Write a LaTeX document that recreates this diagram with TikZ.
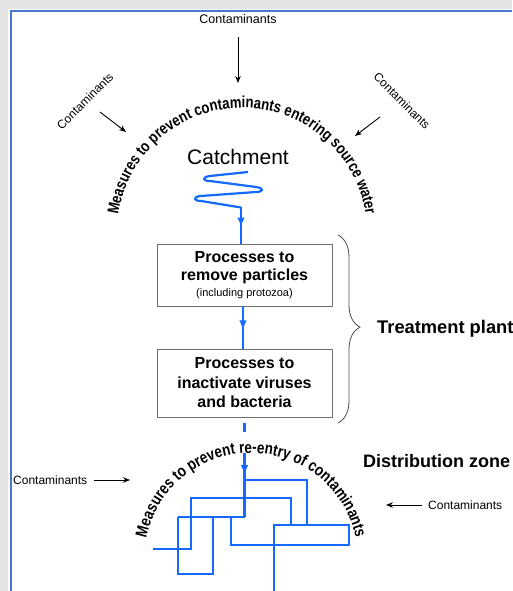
\documentclass[tikz,border=0pt]{standalone}
\usepackage{fontspec}
\setmainfont{Liberation Sans}
\newfontfamily\arcfont[FakeStretch=0.82]{Liberation Sans}
\usetikzlibrary{arrows.meta,decorations.text,decorations.markings,decorations.pathreplacing}
\definecolor{pipe}{RGB}{20,105,255}
\definecolor{frameblue}{RGB}{70,120,210}
\definecolor{band}{RGB}{228,228,228}
\definecolor{boxline}{RGB}{110,110,110}
\begin{document}
\begin{tikzpicture}[x=1pt,y=1pt,
  flow/.style={draw=pipe, line width=2.3pt},
  midarrow/.style={postaction={decorate}, decoration={markings, mark=at position #1 with {\arrow{Triangle[length=8pt,width=6.5pt]}}}},
  cont/.style={font=\fontsize{12}{14}\selectfont, inner sep=0pt},
  carrow/.style={draw=black, line width=0.9pt, -{Stealth[length=7pt,width=5.5pt]}},
  procbox/.style={draw=boxline, line width=0.8pt, minimum width=175pt, align=center, inner sep=0pt, font=\bfseries\fontsize{16}{18.5}\selectfont},
  zone/.style={font=\bfseries\fontsize{18.3}{19}\selectfont, inner sep=0pt, anchor=base west},
  bracestyle/.style={draw=black!70, line width=0.8pt, decorate, decoration={brace, amplitude=22pt, aspect=0.49}}
]
\useasboundingbox (0,0) rectangle (512,591);
% page frame
\fill[band] (0,0) rectangle (8,591);
\fill[band] (0,582) rectangle (512,591);
\draw[frameblue, line width=1.5pt] (11,0) -- (11,580) -- (512,580);

% catchment contaminants
\node[cont, font=\fontsize{12.5}{14}\selectfont] (ctop) at (238,572) {Contaminants};
\node[cont, rotate=45] (cleft) at (85,490) {Contaminants};
\node[cont, rotate=-45] (cright) at (402,490) {Contaminants};
\coordinate (ta1) at (238,554); \coordinate (ta2) at (238,508);
\coordinate (la1) at (100,479); \coordinate (la2) at (126,459);
\coordinate (ra1) at (380,474); \coordinate (ra2) at (355,455);
\draw[carrow] (ta1) -- (ta2);
\draw[carrow] (la1) -- (la2);
\draw[carrow] (ra1) -- (ra2);

% arc text 1
\path[decorate, decoration={text along path, text align=center,
  text={|\arcfont\bfseries\fontsize{16}{16}\selectfont|Measures to prevent contaminants entering source water}}]
  (117,358) arc[start angle=180, end angle=0, radius=125];

\node[font=\fontsize{21}{21}\selectfont, inner sep=0pt] (catch) at (238,434) {Catchment};

% zigzag
\coordinate (z0) at (248,419);
\coordinate (zz) at (241,383.5);
\draw[flow, line width=2.2pt, line join=round]
  (z0) -- (210,415) .. controls (202,414) and (202,410) .. (210,410)
  -- (256,404) .. controls (264,403) and (264,399) .. (256,399)
  -- (201,395) .. controls (193,394.5) and (193,390) .. (201,390)
  -- (zz);

% boxes
\node[procbox, minimum height=62pt] (b1) at (244.5,316) {Processes to\\remove particles\\[-2.5pt]{\normalfont\fontsize{11}{12}\selectfont (including protozoa)}};
\node[procbox, font=\bfseries\fontsize{16}{19.5}\selectfont, minimum height=68pt] (b2) at (244.5,208) {Processes to\\inactivate viruses\\and bacteria};

\draw[flow, line width=2pt, midarrow=0.5] (zz) -- (zz |- b1.north);
\draw[flow, line width=2pt, midarrow=0.52] (b1.south -| 243,0) -- (b2.north -| 243,0);

% brace
\coordinate (br1) at (338,356); \coordinate (br2) at (338,168);
\draw[bracestyle] (br1) -- (br2);
\node[zone] (tp) at (377,257) {Treatment plant};

% distribution
\node[zone, font=\bfseries\fontsize{18}{19}\selectfont] (dz) at (363,123) {Distribution zone};
\path[decorate, decoration={text along path, text align=center,
  text={|\arcfont\bfseries\fontsize{16.4}{16}\selectfont|Measures to prevent re-entry of contaminants}}]
  (144,31) arc[start angle=180, end angle=0, radius=107];

\node[cont, anchor=west] (cbl) at (13,111) {Contaminants};
\node[cont, anchor=west] (cbr) at (428,86) {Contaminants};
\coordinate (ba1) at (94,111); \coordinate (ba2) at (130,111);
\coordinate (bb1) at (422,86); \coordinate (bb2) at (386,86);
\draw[carrow] (ba1) -- (ba2);
\draw[carrow] (bb1) -- (bb2);

% main distribution line
\coordinate (j) at (244.5,74);
\draw[flow, dash pattern=on 0pt off 6pt on 9pt off 21pt on 200pt, midarrow=0.56] (b2.south) -- (j);

% pipe network
\draw[flow] (244.5,111) -- (307,111) -- (307,66);
\draw[flow] (153,42) -- (191,42) -- (191,93) -- (291,93) -- (291,66);
\draw[flow] (178,74) -- (j);
\draw[flow] (213,74) -- (213,17) -- (178,17) -- (178,74);
\draw[flow] (231,74) -- (231,46) -- (349,46) -- (349,66) -- (274,66) -- (274,0);
\end{tikzpicture}
\end{document}
